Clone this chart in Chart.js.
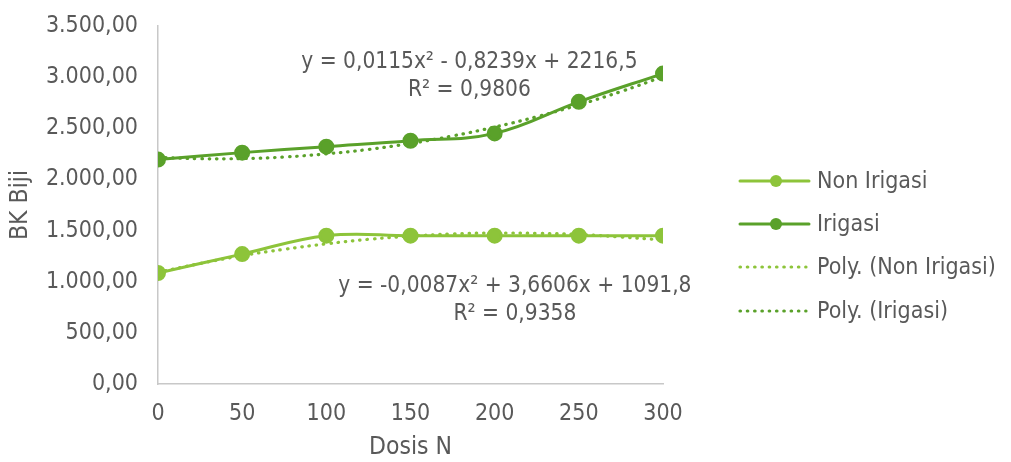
<!DOCTYPE html>
<html>
<head>
<meta charset="utf-8">
<script src="https://cdn.jsdelivr.net/npm/chart.js@4/dist/chart.umd.min.js"></script>
<style>
  html, body { margin: 0; padding: 0; background: #fff; }
  #wrap { width: 1011px; height: 462px; }
</style>
</head>
<body>
<div id="wrap"><canvas id="chart" width="1011" height="462"></canvas></div>
<script>
// values
const doses = [0, 50, 100, 150, 200, 250, 300];
const nonIrigasi = [1085, 1270, 1450, 1450, 1450, 1450, 1450];
const irigasi = [2194, 2262, 2320, 2378, 2450, 2759, 3035];

// dotted trend curves, read at every 25
const polyDoses = [0, 25, 50, 75, 100, 125, 150, 175, 200, 225, 250, 275, 300];
const polyNonIrigasi = [1092, 1178, 1255, 1317, 1370, 1414, 1445, 1468, 1476, 1473, 1462, 1437, 1407];
const polyIrigasi = [2216, 2203, 2204, 2219, 2250, 2293, 2352, 2425, 2512, 2613, 2729, 2859, 3004];

const seriesNames = ["Non Irigasi", "Irigasi", "Poly. (Non Irigasi)", "Poly. (Irigasi)"];
const eqIrigasi = ["y = 0,0115x² - 0,8239x + 2216,5", "R² = 0,9806"];
const eqNonIrigasi = ["y = -0,0087x² + 3,6606x + 1091,8", "R² = 0,9358"];

const lightGreen = "#8dc43a";
const darkGreen = "#5aa12a";
const textGrey = "#595959";
const fontFamily = "'DejaVu Sans Condensed', 'DejaVu Sans', sans-serif";

function toPoints(xs, ys) {
  return xs.map((x, i) => ({ x: x, y: ys[i] }));
}

function formatId(v) {
  const parts = v.toFixed(2).split(".");
  parts[0] = parts[0].replace(/\B(?=(\d{3})+(?!\d))/g, ".");
  return parts[0] + "," + parts[1];
}

// equations and legend drawn on top
const extrasPlugin = {
  id: "extras",
  afterDraw(chart) {
    const ctx = chart.ctx;
    const xs = chart.scales.x, ys = chart.scales.y;
    ctx.save();
    ctx.fillStyle = textGrey;
    ctx.font = "22.5px " + fontFamily;
    ctx.textAlign = "center";
    ctx.textBaseline = "middle";
    ctx.fillText(eqIrigasi[0], xs.getPixelForValue(185), ys.getPixelForValue(3149));
    ctx.fillText(eqIrigasi[1], xs.getPixelForValue(185), ys.getPixelForValue(2876));
    ctx.fillText(eqNonIrigasi[0], xs.getPixelForValue(212), ys.getPixelForValue(955));
    ctx.fillText(eqNonIrigasi[1], xs.getPixelForValue(212), ys.getPixelForValue(682));

    // legend
    const colors = [lightGreen, darkGreen, lightGreen, darkGreen];
    const lx = chart.chartArea.right + 77;
    const rowY = [181, 224, 267, 311];
    ctx.textAlign = "left";
    ctx.font = "23px " + fontFamily;
    seriesNames.forEach((name, i) => {
      const y = rowY[i];
      ctx.strokeStyle = colors[i];
      ctx.fillStyle = colors[i];
      ctx.lineWidth = 3;
      if (i < 2) {
        ctx.setLineDash([]);
        ctx.lineCap = "round";
        ctx.beginPath();
        ctx.moveTo(lx, y);
        ctx.lineTo(lx + 69, y);
        ctx.stroke();
        ctx.beginPath();
        ctx.arc(lx + 36, y, 6, 0, Math.PI * 2);
        ctx.fill();
      } else {
        ctx.setLineDash([0.5, 6.8]);
        ctx.lineCap = "round";
        ctx.lineWidth = 3.2;
        ctx.beginPath();
        ctx.moveTo(lx, y);
        ctx.lineTo(lx + 66, y);
        ctx.stroke();
        ctx.setLineDash([]);
      }
      ctx.fillStyle = textGrey;
      ctx.fillText(name, lx + 77, y + 1);
    });
    ctx.restore();
  }
};

new Chart(document.getElementById("chart"), {
  type: "line",
  data: {
    datasets: [
      {
        label: seriesNames[0],
        data: toPoints(doses, nonIrigasi),
        borderColor: lightGreen,
        backgroundColor: lightGreen,
        borderWidth: 3,
        pointRadius: 6.5,
        pointHoverRadius: 6.5,
        tension: 0.4,
        order: 1
      },
      {
        label: seriesNames[1],
        data: toPoints(doses, irigasi),
        borderColor: darkGreen,
        backgroundColor: darkGreen,
        borderWidth: 3,
        pointRadius: 6.5,
        pointHoverRadius: 6.5,
        tension: 0.4,
        order: 1
      },
      {
        label: seriesNames[2],
        data: toPoints(polyDoses, polyNonIrigasi),
        borderColor: lightGreen,
        borderWidth: 3.2,
        borderDash: [0.5, 6.8],
        borderCapStyle: "round",
        pointRadius: 0,
        tension: 0.4,
        order: 2
      },
      {
        label: seriesNames[3],
        data: toPoints(polyDoses, polyIrigasi),
        borderColor: darkGreen,
        borderWidth: 3.2,
        borderDash: [0.5, 6.8],
        borderCapStyle: "round",
        pointRadius: 0,
        tension: 0.4,
        order: 2
      }
    ]
  },
  options: {
    responsive: false,
    animation: false,
    layout: { padding: { left: 6, right: 348, top: 0, bottom: 0 } },
    plugins: {
      legend: { display: false },
      tooltip: { enabled: false }
    },
    scales: {
      x: {
        type: "linear",
        min: 0,
        max: 300,
        grid: { display: false, drawTicks: false },
        border: { color: "#c8c8c8", width: 1.5 },
        ticks: {
          stepSize: 50,
          padding: 16,
          color: textGrey,
          font: { family: fontFamily, size: 23 }
        },
        title: {
          display: true,
          text: "Dosis N",
          color: textGrey,
          font: { family: fontFamily, size: 24.5 },
          padding: { top: 2, bottom: 0 }
        },
        afterFit(scale) { scale.height = 78; }
      },
      y: {
        min: 0,
        max: 3500,
        grid: { display: false, drawTicks: false },
        border: { color: "#c8c8c8", width: 1.5 },
        ticks: {
          stepSize: 500,
          padding: 20,
          color: textGrey,
          font: { family: fontFamily, size: 23 },
          callback: (v) => formatId(v)
        },
        title: {
          display: true,
          text: "BK Biji",
          color: textGrey,
          font: { family: fontFamily, size: 24.5 },
          padding: { top: 0, bottom: 4 }
        },
        afterFit(scale) {
          scale.width = 152;
          scale.paddingTop = 26;
        }
      }
    }
  },
  plugins: [extrasPlugin]
});
</script>
</body>
</html>
